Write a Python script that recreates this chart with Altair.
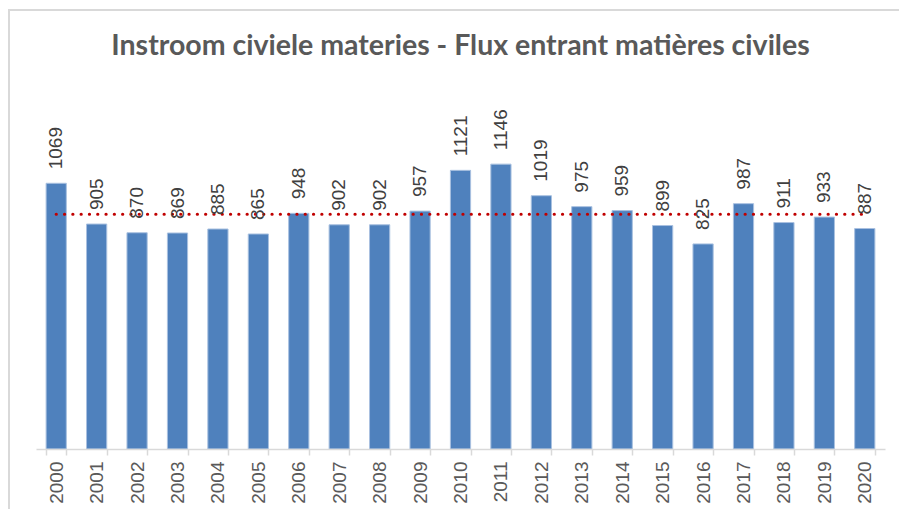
import altair as alt
import pandas as pd

years = [str(y) for y in range(2000, 2021)]
values = [1069, 905, 870, 869, 885, 865, 948, 902, 902, 957, 1121, 1146,
          1019, 975, 959, 899, 825, 987, 911, 933, 887]
title_text = "Instroom civiele materies - Flux entrant matières civiles"

df = pd.DataFrame({"year": years, "value": values})
df["avg"] = sum(values) / len(values)

W, H = 849, 348

x_enc = alt.X("year:N", sort=years, title=None,
              scale=alt.Scale(paddingInner=0.5, paddingOuter=0.25),
              axis=alt.Axis(labelAngle=-90, labelFontSize=19, labelColor="#595959",
                            labelFont="Liberation Sans", labelPadding=6,
                            domainColor="#d9d9d9", domainWidth=1.5,
                            tickColor="#d9d9d9", tickWidth=1.5, tickSize=6,
                            tickBand="extent", grid=False, zindex=1))
y_scale = alt.Scale(domain=[0, 1400], nice=False)

base = alt.Chart(df)

frame = alt.Chart(pd.DataFrame({"f": [0]})).mark_rect(
    fill=None, fillOpacity=0, stroke="#d9d9d9", strokeWidth=2
).encode(x=alt.value(-27), x2=alt.value(W + 60), y=alt.value(-91), y2=alt.value(H + 120))

bars = base.mark_bar(color="#4f81bd", stroke="#a9c1e0", strokeWidth=1).encode(
    x=x_enc,
    y=alt.Y("value:Q", scale=y_scale, axis=None),
)

labels = base.mark_text(angle=270, align="left", baseline="middle", dx=14,
                        fontSize=19, color="#404040", font="Liberation Sans").encode(
    x=alt.X("year:N", sort=years),
    y=alt.Y("value:Q", scale=y_scale),
    text="value:Q",
)

avg_line = base.mark_line(color="#c00000", strokeWidth=3.2, strokeCap="round",
                          strokeDash=[0.1, 8.2]).encode(
    x=alt.X("year:N", sort=years),
    y=alt.Y("avg:Q", scale=y_scale),
)

chart = alt.layer(frame, bars, avg_line, labels).properties(
    width=W, height=H,
    title=alt.TitleParams(title_text, fontSize=28.5, font="Lato", fontWeight="bold",
                          color="#595959", anchor="middle", offset=0, dy=51,
                          frame="group"),
    autosize=alt.AutoSizeParams(type="none"),
    padding={"left": 28, "top": 93, "right": 14, "bottom": 60},
).configure_view(stroke=None)

chart.save("out.html", embed_options={"renderer": "svg", "actions": False})
